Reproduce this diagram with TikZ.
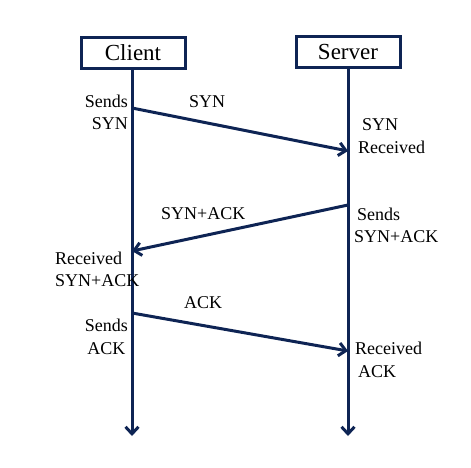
\documentclass[tikz,border=0pt]{standalone}
\usepackage{fontspec}
\setmainfont{Liberation Serif}
\usetikzlibrary{arrows.meta}
\definecolor{navy}{RGB}{14,36,84}

\begin{document}
\begin{tikzpicture}[x=1pt,y=-1pt,
  host/.style={draw=navy,line width=3pt,minimum width=104pt,minimum height=31pt,
    inner sep=0pt,font=\fontsize{23}{26}\selectfont},
  lbl/.style={font=\fontsize{18}{22.5}\selectfont,inner sep=0pt},
  life/.style={draw=navy,line width=3pt,-{Straight Barb[length=7pt,width=13pt]}},
  msg/.style={draw=navy,line width=3pt,-{Straight Barb[length=7pt,width=13pt]}}]
\useasboundingbox (0,0) rectangle (471,467);

\node[host] (client) at (133,53) {Client};
\node[host] (server) at (348,52) {Server};
\coordinate (cend) at (132,436);
\coordinate (send) at (348,436);
\draw[life] (client.south -| cend) -- (cend);
\draw[life] (server.south -| send) -- (send);

% SYN
\coordinate (syn1) at (132,108);
\coordinate (syn2) at (348,151);
\draw[msg] (syn1) -- (syn2);
\node[lbl,anchor=west] (synlbl) at (189,102) {SYN};
\node[lbl,anchor=east,align=right] (sendsyn) at (128,112.5) {Sends\\SYN};
\node[lbl,anchor=west,align=left] (recsyn) at (358,136) {\hspace{4pt}SYN\\Received};

% SYN+ACK
\coordinate (sa1) at (348,205);
\coordinate (sa2) at (132,251);
\draw[msg] (sa1) -- (sa2);
\node[lbl,anchor=west] (salbl) at (161,214) {SYN+ACK};
\node[lbl,anchor=west,align=left] (sendsa) at (354,225.5) {\hspace{3pt}Sends\\SYN+ACK};
\node[lbl,anchor=west,align=left] (recsa) at (55,269.5) {Received\\SYN+ACK};

% ACK
\coordinate (ack1) at (132,313);
\coordinate (ack2) at (348,351);
\draw[msg] (ack1) -- (ack2);
\node[lbl,anchor=west] (acklbl) at (184,303) {ACK};
\node[lbl,anchor=east,align=center] (sendack) at (128,337) {Sends\\ACK};
\node[lbl,anchor=west,align=left] (recack) at (355,360) {Received\\\hspace{3pt}ACK};
\end{tikzpicture}
\end{document}
